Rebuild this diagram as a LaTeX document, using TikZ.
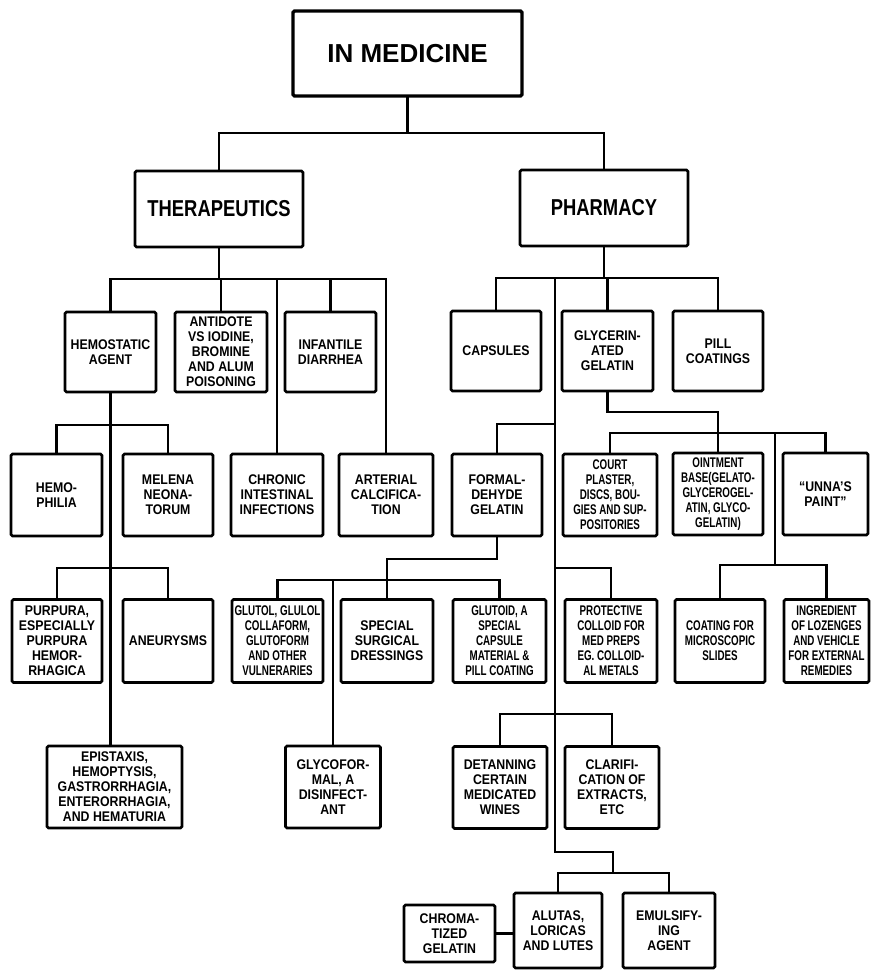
\documentclass[tikz,border=0pt]{standalone}
\usepackage{fontspec}
\setmainfont{Liberation Sans}
\newfontfamily\headfont{Liberation Sans}[FakeStretch=0.8]
\newfontfamily\boxfont{Liberation Sans}[FakeStretch=0.88]
\newfontfamily\tightfont{Liberation Sans}[FakeStretch=0.7]
\tikzset{
  box/.style={draw,line width=2.6pt,rounded corners=1.5pt,align=center,inner sep=.5pt,
              minimum width=91pt,minimum height=82pt,
              font=\boxfont\bfseries\fontsize{14}{15}\selectfont},
  tbox/.style={box,font=\tightfont\bfseries\fontsize{14}{15}\selectfont},
  rootbox/.style={box,line width=3.4pt,minimum width=229pt,minimum height=85pt,
              font=\bfseries\fontsize{26}{30}\selectfont},
  headbox/.style={box,minimum width=168pt,minimum height=76pt,
              font=\headfont\bfseries\fontsize{23}{26}\selectfont},
  wire/.style={line width=2.8pt,line cap=rect},
}
\begin{document}
\begin{tikzpicture}[x=1pt,y=-1pt]
  \useasboundingbox (0,0) rectangle (871,971);
  % top levels
  \node[rootbox] (med)  at (407.5,53.5) {IN MEDICINE};
  \node[headbox] (ther) at (219,209) {THERAPEUTICS};
  \node[headbox] (phar) at (604,208) {PHARMACY};
  % therapeutics
  \node[box,minimum height=80pt] (hem)  at (110.5,352) {HEMOSTATIC\\AGENT};
  \node[box,minimum height=80pt,minimum width=92pt] (anti) at (221,352)
        {ANTIDOTE\\VS IODINE,\\BROMINE\\AND ALUM\\POISONING};
  \node[box,minimum height=80pt] (inf)  at (330.5,352) {INFANTILE\\DIARRHEA};
  \node[box] (phi) at (56.5,495) {HEMO-\\PHILIA};
  \node[box,minimum width=90pt] (mel) at (168,495) {MELENA\\NEONA-\\TORUM};
  \node[box,minimum width=92pt] (chr) at (277,495) {CHRONIC\\INTESTINAL\\INFECTIONS};
  \node[box,minimum width=94pt] (art) at (386,495) {ARTERIAL\\CALCIFICA-\\TION};
  \node[box,minimum width=90pt,minimum height=83pt] (purp) at (57,641)
        {PURPURA,\\ESPECIALLY\\PURPURA\\HEMOR-\\RHAGICA};
  \node[box,minimum width=90pt,minimum height=83pt] (aneu) at (168,641) {ANEURYSMS};
  \node[box,minimum width=135pt] (epi) at (114.5,787)
        {EPISTAXIS,\\HEMOPTYSIS,\\GASTRORRHAGIA,\\ENTERORRHAGIA,\\AND HEMATURIA};
  % pharmacy
  \node[box,minimum height=80pt,minimum width=90pt] (cap)  at (496,351) {CAPSULES};
  \node[box,minimum height=80pt] (gly)  at (607.5,351) {GLYCERIN-\\ATED\\GELATIN};
  \node[box,minimum height=80pt,minimum width=90pt] (pill) at (718,351) {PILL\\COATINGS};
  \node[box,minimum width=90pt] (form) at (497,495) {FORMAL-\\DEHYDE\\GELATIN};
  \node[tbox,minimum width=94pt] (court) at (610,495)
        {COURT\\PLASTER,\\DISCS, BOU-\\GIES AND SUP-\\POSITORIES};
  \node[tbox,minimum width=90pt] (oint) at (718,494)
        {OINTMENT\\BASE(GELATO-\\GLYCEROGEL-\\ATIN, GLYCO-\\GELATIN)};
  \node[box,minimum width=85pt] (unna) at (825.5,494) {“UNNA’S\\PAINT”};
  \node[tbox,minimum height=83pt] (glut) at (277.5,641)
        {GLUTOL, GLULOL\\COLLAFORM,\\GLUTOFORM\\AND OTHER\\VULNERARIES};
  \node[box,minimum width=92pt,minimum height=83pt] (spec) at (387,641)
        {SPECIAL\\SURGICAL\\DRESSINGS};
  \node[tbox,minimum width=93pt,minimum height=83pt] (gtd) at (499.5,641)
        {GLUTOID, A\\SPECIAL\\CAPSULE\\MATERIAL \&\\PILL COATING};
  \node[tbox,minimum width=92pt,minimum height=83pt] (prot) at (611,641)
        {PROTECTIVE\\COLLOID FOR\\MED PREPS\\EG. COLLOID-\\AL METALS};
  \node[tbox,minimum width=90pt,minimum height=83pt] (coat) at (720,641)
        {COATING FOR\\MICROSCOPIC\\SLIDES};
  \node[tbox,minimum width=85pt,minimum height=83pt] (ingr) at (826.5,641)
        {INGREDIENT\\OF LOZENGES\\AND VEHICLE\\FOR EXTERNAL\\REMEDIES};
  \node[box,minimum width=95pt] (glyf) at (333,787) {GLYCOFOR-\\MAL, A\\DISINFECT-\\ANT};
  \node[box,minimum width=94pt] (det) at (500,787.5) {DETANNING\\CERTAIN\\MEDICATED\\WINES};
  \node[box,minimum width=94pt] (cla) at (612,787.5) {CLARIFI-\\CATION OF\\EXTRACTS,\\ETC};
  \node[box,minimum height=57pt] (chro) at (449.5,933.5) {CHROMA-\\TIZED\\GELATIN};
  \node[box,minimum width=88pt,minimum height=75pt] (alu) at (558,930.5) {ALUTAS,\\LORICAS\\AND LUTES};
  \node[box,minimum width=92pt,minimum height=75pt] (emu) at (669,930.5) {EMULSIFY-\\ING\\AGENT};
  % bus heights and joints
  \coordinate (b0) at (0,133);  \coordinate (b1) at (0,279);
  \coordinate (b2) at (0,425);  \coordinate (b3) at (0,568);
  \coordinate (b4) at (0,278);  \coordinate (b5) at (0,424);
  \coordinate (b6) at (0,568);  \coordinate (b7) at (0,714);
  \coordinate (j9) at (0,412);  \coordinate (b9) at (0,433);
  \coordinate (b10) at (0,565); \coordinate (j11) at (0,559);
  \coordinate (b11) at (0,580);
  \coordinate (sp0) at (555,278); \coordinate (sp1) at (555,852);
  \coordinate (sp2) at (775,433); \coordinate (j8) at (613,873);
  % connectors
  \draw[wire] (med) -- (med |- b0);
  \draw[wire] (ther) -- (ther |- b0) -- (phar |- b0) -- (phar);
  \draw[wire] (ther) -- (ther |- b1);
  \draw[wire] (hem |- b1) -- (art |- b1);
  \foreach \n in {hem,anti,chr,inf,art} \draw[wire] (\n) -- (\n |- b1);
  \draw[wire] (hem) -- (hem |- epi.north);
  \draw[wire] (phi) -- (phi |- b2) -- (mel |- b2) -- (mel);
  \draw[wire] (purp) -- (purp |- b3) -- (aneu |- b3) -- (aneu);
  \draw[wire] (phar) -- (phar |- b4);
  \draw[wire] (cap |- b4) -- (pill |- b4);
  \foreach \n in {cap,gly,pill} \draw[wire] (\n) -- (\n |- b4);
  \draw[wire] (sp0) -- (sp1);
  \draw[wire] (form) -- (form |- b5) -- (sp0 |- b5);
  \draw[wire] (prot) -- (prot |- b6) -- (sp0 |- b6);
  \draw[wire] (det) -- (det |- b7) -- (cla |- b7) -- (cla);
  \draw[wire] (sp1) -| (j8);
  \draw[wire] (alu) -- (alu |- j8) -- (emu |- j8) -- (emu);
  \draw[wire] (chro) -- (chro -| alu.west);
  \draw[wire] (gly) -- (gly |- j9) -| (oint |- b9);
  \draw[wire] (court) -- (court |- b9) -- (unna |- b9) -- (unna);
  \draw[wire] (oint) -- (oint |- b9);
  \draw[wire] (sp2) -- (sp2 |- b10);
  \draw[wire] (coat) -- (coat |- b10) -- (ingr |- b10) -- (ingr);
  \draw[wire] (form) -- (form |- j11) -| (spec |- b11);
  \draw[wire] (glut) -- (glut |- b11) -- (gtd |- b11) -- (gtd);
  \foreach \n in {spec,glyf} \draw[wire] (\n) -- (\n |- b11);
\end{tikzpicture}
\end{document}
